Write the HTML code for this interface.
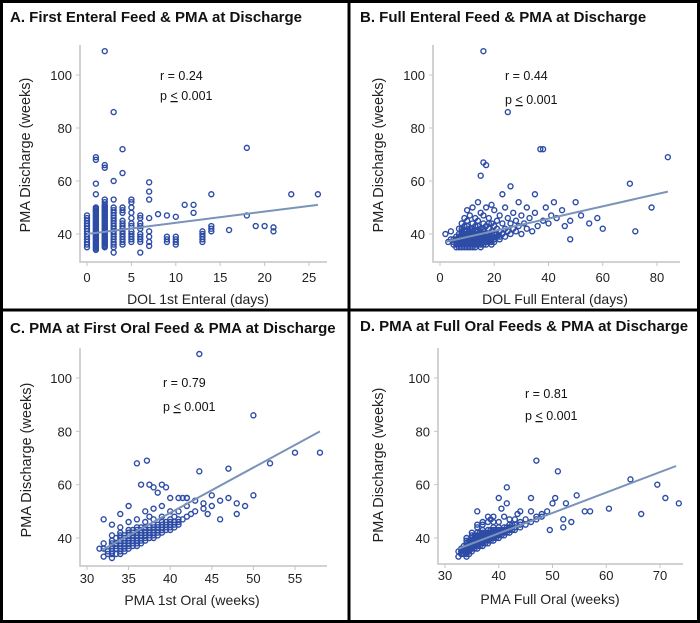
<!DOCTYPE html>
<html><head><meta charset="utf-8"><style>
html,body{margin:0;padding:0;background:#fff}
svg{display:block;font-family:"Liberation Sans",Arial,sans-serif}
</style></head><body>
<svg id="chart" width="700" height="623" viewBox="0 0 700 623"></svg>
<script>
// Panel A data: columns of y values per integer x
const aX=[0,1,2,3,4,5,6,7,8,9,10,11,12,13,14,16,18,19,20,21,23,26];
const aY=[
[35,36,37,38,39,40,41,42,43,44,45,46,47],
[34,34.5,35,35.5,36,36.5,37,37.5,38,38.5,39,39.5,40,40.5,41,41.5,42,42.5,43,43.5,44,44.5,45,45.5,46,46.5,47,47.5,48,48.5,49,49.5,50,55,59,68,69],
[35,35.5,36,36.5,37,37.5,38,38.5,39,39.5,40,40.5,41,41.5,42,42.5,43,43.5,44,44.5,45,45.5,46,46.5,47,47.5,48,48.5,49,49.5,50,50.5,51,52,53,65,66,109],
[33,35,36,37,38,39,40,41,42,43,44,45,46,47,48,49,50,53,60,86],
[36,37,38,39,40,41,42,43,44,45,48,49,50,63,72],
[37,38,39,40,41,43,44,46,48,50,52,53],
[33,37,38,39,40,42,43,44,46,47],
[35.5,37,39,41,46,53,56,59.5],
[47.5],[37,38,39,47],[36,37,38,39,46.5],[51],[48,51],[37,38,39,40,41],[41,42,43,55],[41.5],[47,72.5],[43],[43],[41,42.5],[55],[55]];
const bPts=[[5,36],[5,38],[6,35],[6,37],[6,39],[7,36],[7,38],[7,40],[7,42],[8,35],[8,37],[8,39],[8,41],[8,44],[9,36],[9,38],[9,40],[9,43],[9,46],[10,35],[10,37],[10,39],[10,41],[10,45],[10,49],[11,36],[11,38],[11,40],[11,42],[11,47],[12,35],[12,37],[12,39],[12,41],[12,44],[12,50],[13,36],[13,38],[13,40],[13,43],[13,46],[14,37],[14,39],[14,41],[14,45],[14,52],[15,36],[15,38],[15,40],[15,42],[15,48],[15,62],[16,37],[16,39],[16,41],[16,44],[16,47],[16,67],[16,109],[17,38],[17,40],[17,43],[17,50],[17,66],[18,37],[18,39],[18,42],[18,46],[19,38],[19,41],[19,44],[19,51],[20,37],[20,40],[20,43],[20,49],[21,39],[21,42],[21,45],[22,38],[22,41],[22,47],[23,40],[23,44],[23,55],[24,39],[24,42],[24,50],[25,41],[25,46],[25,86],[26,40],[26,44],[26,58],[27,42],[27,48],[28,41],[28,45],[29,43],[29,52],[30,40],[30,47],[31,44],[32,42],[32,50],[33,46],[34,41],[35,48],[35,55],[36,43],[37,72],[38,45],[38,72],[39,50],[40,44],[41,47],[42,52],[43,46],[45,49],[46,43],[48,45],[50,52],[52,47],[55,44],[58,46],[70,59],[72,41],[78,50],[84,69],[2,40],[3,37],[4,38],[4,41],[60,42],[48,38],[6,36],[7,37],[9,37],[11,37],[13,37],[15,37],[17,36],[19,36],
[5,37],[6,38],[7,35],[7,39],[8,36],[8,38],[8,40],[9,35],[9,39],[9,41],[10,36],[10,38],[10,40],[11,35],[11,39],[11,41],[12,36],[12,38],[12,40],[13,35],[13,37],[13,39],[13,41],[14,36],[14,38],[14,40],[15,35],[15,39],[15,41],[16,36],[16,38],[16,40],[17,37],[17,39],[18,38],[18,40],[19,37],[19,39],[20,38],[21,40],[22,39],[8,42],[10,43],[12,42],[14,43],[16,42],[18,44]];
const cPts=[[32,36],[32,38],[32.5,35],[33,35],[33,37],[33,39],[33,41],[33.5,36],[33.5,38],[34,35],[34,37],[34,39],[34,41],[34,44],[34.5,36],[34.5,38],[34.5,40],[35,37],[35,39],[35,41],[35,43],[35,46],[35.5,38],[35.5,40],[35.5,42],[36,38],[36,40],[36,42],[36,44],[36,47],[36.5,39],[36.5,41],[36.5,43],[37,40],[37,42],[37,44],[37,46],[37,50],[37.5,41],[37.5,43],[37.5,48],[38,41],[38,43],[38,45],[38,47],[38,51],[38.5,42],[38.5,44],[38.5,57],[39,43],[39,45],[39,48],[39,52],[39,60],[39.5,44],[39.5,46],[39.5,59],[40,44],[40,46],[40,50],[40,55],[40.5,45],[40.5,48],[41,46],[41,50],[41,55],[41.5,47],[42,48],[42,52],[42,55],[42.5,49],[43,50],[43,54],[43.5,65],[43.5,109],[44,51],[44,53],[44.5,49],[45,52],[45,56],[46,54],[46,47],[47,66],[47,55],[48,49],[48,53],[49,52],[50,86],[50,56],[52,68],[55,72],[58,72],[31.5,36],[32,47],[36,68],[35,52],[34,49],[33,45],[33,36],[34,36],[35,38],[36,39],[37,41],
[32.5,34],[33,34],[33,38],[33.5,34],[33.5,37],[33.5,40],[34,34],[34,38],[34,40],[34,42],[34.5,35],[34.5,37],[34.5,39],[34.5,41],[35,36],[35,38],[35,40],[35,42],[35.5,37],[35.5,39],[35.5,41],[35.5,43],[36,37],[36,39],[36,41],[36,43],[36.5,38],[36.5,40],[36.5,42],[36.5,44],[37,39],[37,41],[37,43],[37.5,40],[37.5,42],[37.5,44],[38,40],[38,42],[38,44],[38.5,41],[38.5,43],[38.5,45],[39,42],[39,44],[39,46],[39.5,43],[39.5,45],[40,43],[40,45],[40,47],[40.5,44],[40.5,46],[41,45],[41,47],[32,33],[33,32.5],[37.2,69],[37.5,60],[38,59],[36.5,60],[42,55],[41.5,55]];
const dPts=[[32.5,33],[32.5,35],[33,34],[33,36],[33.5,35],[33.5,37],[34,33],[34,35],[34,36],[34,38],[34,40],[34.5,34],[34.5,36],[34.5,37],[34.5,39],[35,35],[35,37],[35,38],[35,40],[35.5,36],[35.5,38],[35.5,39],[35.5,41],[36,37],[36,38],[36,40],[36,42],[36,50],[36.5,37],[36.5,39],[36.5,41],[37,38],[37,39],[37,41],[37,43],[37.5,38],[37.5,40],[37.5,42],[38,39],[38,41],[38,43],[38,48],[38.5,40],[38.5,42],[38.5,47],[39,40],[39,42],[39,44],[39,48],[39.5,41],[39.5,43],[40,41],[40,43],[40,46],[40,55],[40.5,42],[40.5,51],[41,42],[41,44],[41,48],[41.5,43],[41.5,59],[41.5,53],[42,43],[42,45],[42,47],[43,44],[43,47],[43.5,49],[44,45],[44,50],[45,47],[46,50],[46,55],[47,48],[47,69],[48,49],[49,50],[49.5,43],[50,53],[50.5,55],[51,65],[52,47],[52,44],[52.5,53],[53.5,46],[54.5,56],[56,50],[57,50],[60.5,51],[64.5,62],[66.5,49],[69.5,60],[71,55],[73.5,53],[36,45],[37,46],[35,42],
[33,35],[33.5,34],[33.5,36],[34,34],[34,37],[34,39],[34.5,35],[34.5,38],[35,36],[35,39],[35,41],[35.5,37],[35.5,40],[36,36],[36,39],[36,41],[36.5,38],[36.5,40],[36.5,42],[37,37],[37,40],[37,42],[37.5,39],[37.5,41],[38,38],[38,40],[38,42],[38.5,39],[38.5,41],[38.5,43],[39,39],[39,41],[39,43],[39.5,40],[39.5,42],[40,40],[40,42],[40,44],[40.5,41],[40.5,43],[41,41],[41,43],[41.5,42],[41.5,44],[42,42],[42,44],[42.5,43],[42.5,45],[43,43],[43,45],[44,44],[44,46],[45,45],[46,46],[47,47],[48,48],[36,44],[37,45],[38,46],[39,46]];
const aFit=[[0,40],[26,51]], bFit=[[2,37],[84,56]], cFit=[[31.8,35.5],[58,80]], dFit=[[32.5,36],[73,67]];
const aXT=[0,5,10,15,20,25], bXT=[0,20,40,60,80], cXT=[30,35,40,45,50,55], dXT=[30,40,50,60,70];
const yT=[40,60,80,100];
const titles=["A. First Enteral Feed & PMA at Discharge","B. Full Enteral Feed & PMA at Discharge","C. PMA at First Oral Feed & PMA at Discharge","D. PMA at Full Oral Feeds & PMA at Discharge"];
const xTitles=["DOL 1st Enteral (days)","DOL Full Enteral (days)","PMA 1st Oral (weeks)","PMA Full Oral (weeks)"];
const rTexts=["r = 0.24","r = 0.44","r = 0.79","r = 0.81"];

const NS="http://www.w3.org/2000/svg";
const svg=document.getElementById('chart');
function mk(tag,attrs,parent,text){const e=document.createElementNS(NS,tag);for(const k in attrs)e.setAttribute(k,attrs[k]);if(text!==undefined)e.textContent=text;(parent||svg).appendChild(e);return e;}

const layouts=[
 {key:'a',ox:0,ax:80,top:45,bot:262,right:327,x0:0,x0p:87,x1:25,x1p:309,ty:22,xl:198,xly:304,tly:282,yl:30,ylc:155,rx:160,ry:80,py:100,xt:aXT,fit:aFit},
 {key:'b',ox:350,ax:433,top:45,bot:262,right:680,x0:0,x0p:440,x1:80,x1p:657,ty:22,xl:555,xly:304,tly:282,yl:383,ylc:155,rx:505,ry:80,py:104,xt:bXT,fit:bFit},
 {key:'c',ox:0,ax:80,top:348,bot:566,right:327,x0:30,x0p:87,x1:55,x1p:295,ty:333,xl:192,xly:605,tly:583,yl:31,ylc:460,rx:163,ry:387,py:411,xt:cXT,fit:cFit},
 {key:'d',ox:350,ax:438,top:348,bot:564,right:683,x0:30,x0p:445,x1:70,x1p:660,ty:331,xl:550,xly:604,tly:580,yl:383,ylc:465,rx:525,ry:398,py:420,xt:dXT,fit:dFit}
];
const yMapA={v0:40,p0:234,v1:100,p1:75}, yMapC={v0:40,p0:538,v1:100,p1:378};

mk('rect',{x:0,y:0,width:700,height:623,fill:'#fff'});
layouts.forEach((L,i)=>{
 const g=mk('g',{});
 
 
 const ym=i<2?yMapA:yMapC;
 const sx=v=>L.x0p+(v-L.x0)*(L.x1p-L.x0p)/(L.x1-L.x0);
 const sy=v=>ym.p0+(v-ym.v0)*(ym.p1-ym.p0)/(ym.v1-ym.v0);
 const t=mk('text',{x:L.ox+10,y:L.ty,'font-size':15,'font-weight':'bold',fill:'#111'},g,titles[i]);
 
 
 const axes=mk('path',{d:`M${L.ax},${L.top}V${L.bot}H${L.right}`,stroke:'#c4c4c4','stroke-width':1.5,fill:'none'},g);
 
 
 L.xt.forEach(v=>{
  mk('line',{x1:sx(v),x2:sx(v),y1:L.bot,y2:L.bot+4,stroke:'#c4c4c4'},g);
  const tl=mk('text',{x:sx(v),y:L.tly,'font-size':13,'text-anchor':'middle',fill:'#222'},g,String(v));
  
  
 });
 yT.forEach(v=>{
  mk('line',{x1:L.ax-4,x2:L.ax,y1:sy(v),y2:sy(v),stroke:'#c4c4c4'},g);
  const tl=mk('text',{x:L.ax-8,y:sy(v)+5,'font-size':13,'text-anchor':'end',fill:'#222'},g,String(v));
  
  
 });
 const xt=mk('text',{x:L.xl,y:L.xly,'font-size':14,'text-anchor':'middle',fill:'#222'},g,xTitles[i]);
 
 
 const yt=mk('text',{x:L.yl,y:L.ylc,'font-size':14.5,'text-anchor':'middle',fill:'#222',transform:`rotate(-90 ${L.yl} ${L.ylc})`},g,'PMA Discharge (weeks)');
 
 
 const pts=i===0?aX.flatMap((x,k)=>aY[k].map(y=>[x,y])):[null,bPts,cPts,dPts][i];
 pts.forEach(p=>{
  const c=mk('circle',{cx:sx(p[0]),cy:sy(p[1]),r:2.5,fill:'none',stroke:'#2d4ca6','stroke-width':1.4},g);
  
  
 });
 const f=mk('line',{x1:sx(L.fit[0][0]),y1:sy(L.fit[0][1]),x2:sx(L.fit[1][0]),y2:sy(L.fit[1][1]),stroke:'#7a93b8','stroke-width':2},g);
 
 
 const r=mk('text',{x:L.rx,y:L.ry,'font-size':12.5,fill:'#111'},g,rTexts[i]);
 
 
 const p=mk('text',{x:L.rx,y:L.py,'font-size':12.5,fill:'#111'},g);
 
 
 p.appendChild(document.createTextNode('p '));
 mk('tspan',{'text-decoration':'underline'},p,'<');
 p.appendChild(document.createTextNode(' 0.001'));
});
const fr=mk('path',{d:'M1.5,1.5H698.5V621.5H1.5Z M349,0V623 M0,310H700',stroke:'#000','stroke-width':3,fill:'none'});


</script>
</body></html>
